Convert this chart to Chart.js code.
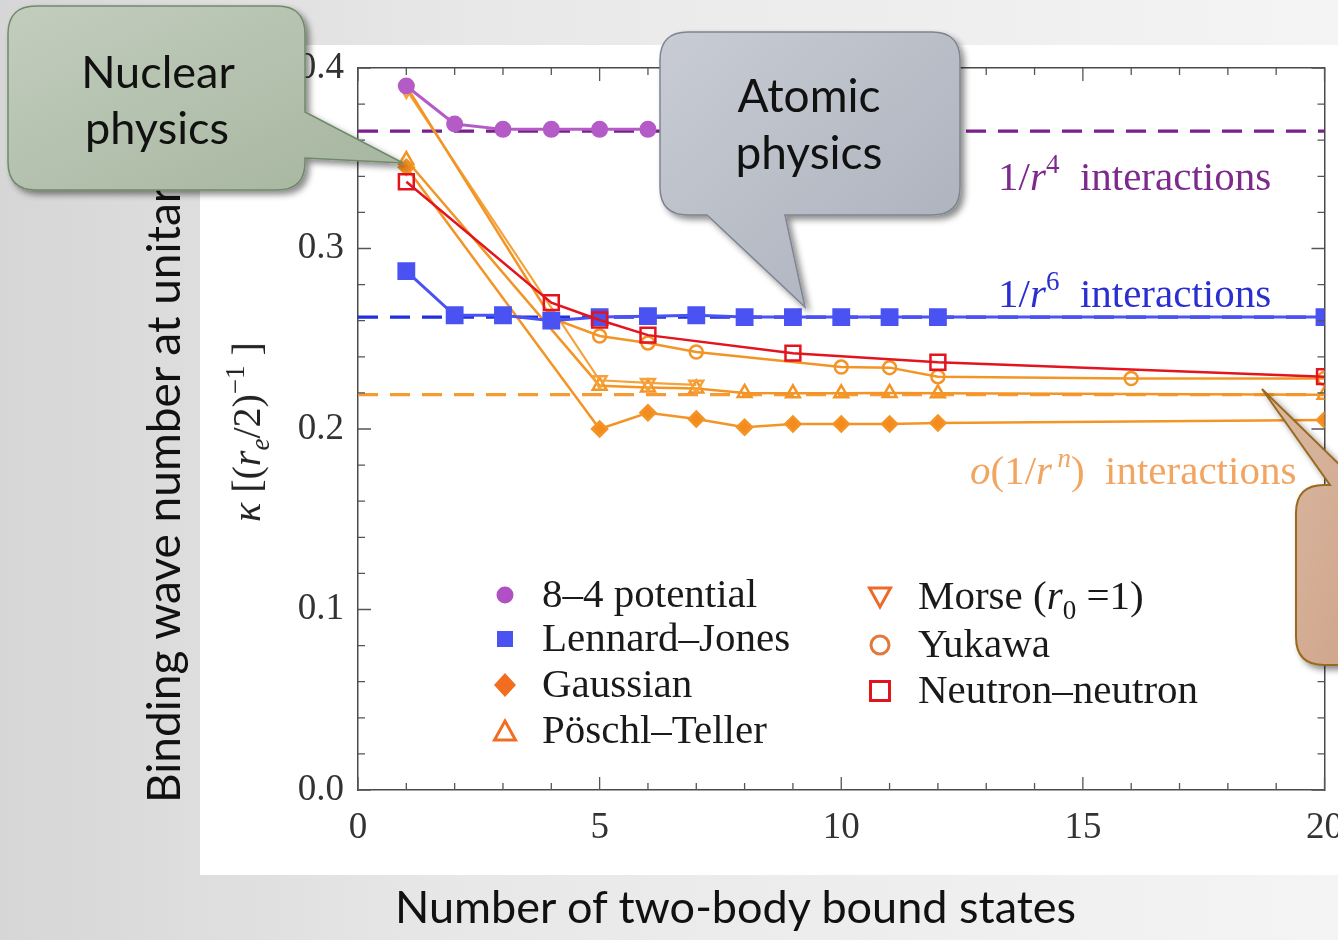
<!DOCTYPE html>
<html><head><meta charset="utf-8">
<script src="https://cdn.jsdelivr.net/npm/chart.js@4.4.1/dist/chart.umd.min.js"></script>
<style>
html,body{margin:0;padding:0;width:1338px;height:940px;overflow:hidden;}
body{position:relative;background:linear-gradient(90deg,#d6d6d6 0%,#e8e8e8 35%,#f4f4f4 100%);font-family:'Liberation Serif','Times New Roman',serif;}
#plotbg{position:absolute;left:200px;top:45px;width:1138px;height:830px;background:#fff;}
#wrap{position:absolute;left:0;top:0;width:1338px;height:940px;}
.t{position:absolute;white-space:nowrap;line-height:1;}
.slide{font-family:Lato,'Open Sans',sans-serif;color:#111;}
.serif{font-family:'Liberation Serif','Times New Roman',serif;}
.ann{font-size:41px;}
.ann sup{font-size:27px;vertical-align:0;position:relative;top:-17px;}
.leg{font-size:41px;color:#1a1a1a;}
.leg sub{font-size:27px;vertical-align:0;position:relative;top:10px;}
.mk{position:absolute;width:30px;height:30px;}
#kappa{font-size:40px;color:#222;transform:translate(-50%,-50%) rotate(-90deg);}
#kappa sub{font-size:27px;vertical-align:0;position:relative;top:9px;}
#kappa sup{font-size:27px;vertical-align:0;position:relative;top:-16px;}
svg#callouts{position:absolute;left:0;top:0;}
</style></head>
<body>
<div id="plotbg"></div>
<div id="wrap"><canvas id="c" width="1338" height="940"></canvas></div>

<div class="t slide" id="ytitle" style="left:140px;top:803px;font-size:46px;transform-origin:0 0;transform:rotate(-90deg);">Binding wave number at unitarity</div>
<div class="t slide" id="xtitle" style="left:395px;top:884px;font-size:45px;">Number of two-body bound states</div>
<div class="t serif" id="kappa" style="left:247px;top:432px;"><i>κ</i> [(<i>r</i><sub><i>e</i></sub>/2)<sup>−1</sup> ]</div>

<div class="t serif ann" style="left:998px;top:156px;color:#7d2a8c;">1/<i>r</i><sup>4</sup>&nbsp; interactions</div>
<div class="t serif ann" style="left:998px;top:273px;color:#2b2fcf;">1/<i>r</i><sup>6</sup>&nbsp; interactions</div>
<div class="t serif ann" style="left:970px;top:450px;color:#f2a461;"><i>o</i>(1/<i>r</i><sup>&thinsp;<i>n</i></sup>)&nbsp; interactions</div>

<div id="legend"></div>

<svg id="callouts" width="1338" height="940">
  <defs>
    <filter id="sh" x="-10%" y="-10%" width="130%" height="130%">
      <feDropShadow dx="4" dy="4" stdDeviation="3" flood-color="#000" flood-opacity="0.45"/>
    </filter>
    <linearGradient id="gGreen" x1="0" y1="0" x2="1" y2="1">
      <stop offset="0" stop-color="#c3cdbe"/><stop offset="1" stop-color="#a5b59e"/>
    </linearGradient>
    <linearGradient id="gGray" x1="0" y1="0" x2="1" y2="1">
      <stop offset="0" stop-color="#c9ccd4"/><stop offset="1" stop-color="#a9afba"/>
    </linearGradient>
    <linearGradient id="gTan" x1="0" y1="0" x2="1" y2="1">
      <stop offset="0" stop-color="#dcbaa4"/><stop offset="1" stop-color="#cfa68c"/>
    </linearGradient>
  </defs>
  <g filter="url(#sh)">
    <path d="M36,6 H277 Q305,6 305,34 V112 L403,163 L305,158 V162 Q305,190 277,190 H36 Q8,190 8,162 V34 Q8,6 36,6 Z" fill="url(#gGreen)" stroke="#6f8a69" stroke-width="1.5"/>
    <path d="M688,32 H932 Q960,32 960,60 V187 Q960,215 932,215 H785 L805,307 L707,215 H688 Q660,215 660,187 V60 Q660,32 688,32 Z" fill="url(#gGray)" stroke="#7d8592" stroke-width="1.5"/>
    <path d="M1324,485 H1330 L1262,389 L1345,470 V665 H1324 Q1296,665 1296,637 V513 Q1296,485 1324,485 Z" fill="url(#gTan)" stroke="#9a6a1c" stroke-width="2"/>
  </g>
  <text x="158" y="88" text-anchor="middle" font-family="Lato, 'Open Sans', sans-serif" font-size="45" fill="#111">Nuclear</text>
  <text x="157" y="144" text-anchor="middle" font-family="Lato, 'Open Sans', sans-serif" font-size="45" fill="#111">physics</text>
  <text x="809" y="112" text-anchor="middle" font-family="Lato, 'Open Sans', sans-serif" font-size="46" fill="#111">Atomic</text>
  <text x="809" y="169" text-anchor="middle" font-family="Lato, 'Open Sans', sans-serif" font-size="46" fill="#111">physics</text>
</svg>

<script>
// ---------- data ----------
const xTickLabels = ['0','5','10','15','20'];
const yTickLabels = ['0.0','0.1','0.2','0.3','0.4'];

const seriesNames = ['8–4 potential','Lennard–Jones','Gaussian','Pöschl–Teller','Morse (r0 =1)','Yukawa','Neutron–neutron'];

const potential84X = [1,2,3,4,5,6];
const potential84Y = [0.390,0.369,0.366,0.366,0.366,0.366];

const lennardJonesX = [1,2,3,4,5,6,7,8,9,10,11,12,20];
const lennardJonesY = [0.2875,0.263,0.263,0.260,0.262,0.2625,0.263,0.262,0.262,0.262,0.262,0.262,0.262];

const gaussianX = [1,5,6,7,8,9,10,11,12,20];
const gaussianY = [0.345,0.200,0.209,0.2055,0.201,0.2028,0.2028,0.2028,0.2033,0.205];

const poschlTellerX = [1,5,6,7,8,9,10,11,12,20];
const poschlTellerY = [0.349,0.224,0.223,0.2225,0.220,0.2198,0.2198,0.220,0.2198,0.219];

const morseX = [1,5,6,7];
const morseY = [0.388,0.227,0.2255,0.2245];

const yukawaX = [1,4,5,6,7,10,11,12,16,20];
const yukawaY = [0.390,0.2615,0.2515,0.2477,0.2427,0.2343,0.234,0.229,0.228,0.228];

const neutronX = [1,4,5,6,9,12,20];
const neutronY = [0.337,0.270,0.2604,0.252,0.242,0.237,0.229];

const limitX = [0,20];
const limit4Y = [0.365,0.365];   // 1/r^4
const limit6Y = [0.262,0.262];   // 1/r^6
const limitNY = [0.219,0.219];   // o(1/r^n)

// ---------- helpers ----------
const pts = (xs, ys) => xs.map((x,i)=>({x, y: ys[i]}));

const ORANGE = '#f39526';
const datasets = [
  {label:seriesNames[0], data:pts(potential84X,potential84Y), borderColor:'#b45bc8', backgroundColor:'#b45bc8',
   borderWidth:3, pointStyle:'circle', pointRadius:7, order:1},
  {label:seriesNames[6], data:pts(neutronX,neutronY), borderColor:'#e3141e', backgroundColor:'rgba(255,255,255,0)',
   borderWidth:2.5, pointStyle:'rect', pointRadius:10.5, pointBorderWidth:2.5, order:2},
  {label:seriesNames[1], data:pts(lennardJonesX,lennardJonesY), borderColor:'#4a52f2', backgroundColor:'#4a52f2',
   borderWidth:3, pointStyle:'rect', pointRadius:10.5, order:3},
  {label:seriesNames[5], data:pts(yukawaX,yukawaY), borderColor:ORANGE, backgroundColor:'rgba(255,255,255,0)',
   borderWidth:2.5, pointStyle:'circle', pointRadius:6.5, pointBorderWidth:2.5, order:4},
  {label:seriesNames[4], data:pts(morseX,morseY), borderColor:'#f5a23a', backgroundColor:'rgba(255,255,255,0)',
   borderWidth:2.2, pointStyle:'triangle', pointRotation:180, pointRadius:8, pointBorderWidth:2.5, order:5},
  {label:seriesNames[3], data:pts(poschlTellerX,poschlTellerY), borderColor:ORANGE, backgroundColor:'rgba(255,255,255,0)',
   borderWidth:2.5, pointStyle:'triangle', pointRadius:8, pointBorderWidth:2.5, order:6},
  {label:seriesNames[2], data:pts(gaussianX,gaussianY), borderColor:ORANGE, backgroundColor:'#f58a1f',
   borderWidth:2.5, pointStyle:'rectRot', pointRadius:7.5, order:7},
  {label:'limit4', data:pts(limitX,limit4Y), borderColor:'#7b1f8c', borderWidth:3.2, borderDash:[20,12], pointRadius:0, order:10},
  {label:'limit6', data:pts(limitX,limit6Y), borderColor:'#1f30e0', borderWidth:3.2, borderDash:[20,12], pointRadius:0, order:10},
  {label:'limitN', data:pts(limitX,limitNY), borderColor:'#f59a34', borderWidth:3.2, borderDash:[20,12], pointRadius:0, order:10},
];

const tickFont = {family:"'Liberation Serif','Times New Roman',serif", size:37};

const inwardTicks = {
  id:'inwardTicks',
  afterDraw(chart){
    const {ctx, chartArea:a, scales} = chart;
    const x = scales.x, y = scales.y;
    ctx.save();
    ctx.strokeStyle = '#555'; ctx.lineWidth = 1.3;
    for (let i = 0; i <= 20; i++) {
      const px = x.getPixelForValue(i);
      const len = (i % 5 === 0) ? 13 : 7;
      ctx.beginPath();
      ctx.moveTo(px, a.bottom); ctx.lineTo(px, a.bottom - len);
      ctx.moveTo(px, a.top); ctx.lineTo(px, a.top + len);
      ctx.stroke();
    }
    for (let j = 0; j <= 20; j++) {
      const v = j * 0.02;
      const py = y.getPixelForValue(v);
      const len = (j % 5 === 0) ? 13 : 7;
      ctx.beginPath();
      ctx.moveTo(a.left, py); ctx.lineTo(a.left + len, py);
      ctx.moveTo(a.right, py); ctx.lineTo(a.right - len, py);
      ctx.stroke();
    }
    ctx.restore();
  }
};

const borderOpt = {display:true, color:'#4a4a4a', width:1.5};

new Chart(document.getElementById('c'), {
  type:'line',
  data:{datasets},
  options:{
    responsive:false, animation:false, maintainAspectRatio:false,
    layout:{padding:{left:288, right:12, top:68, bottom:90}},
    plugins:{legend:{display:false}, tooltip:{enabled:false}},
    elements:{line:{tension:0}},
    scales:{
      x:{type:'linear', position:'bottom', min:0, max:20,
         ticks:{stepSize:5, color:'#333', font:tickFont, padding:16, maxRotation:0,
                callback:(v)=>{const k=[0,5,10,15,20].indexOf(v); return k>=0?xTickLabels[k]:'';}},
         grid:{display:false, drawTicks:false}, border:borderOpt,
         afterFit(s){s.height=60; s.paddingLeft=0; s.paddingRight=0;}},
      x2:{type:'linear', position:'top', min:0, max:20, ticks:{display:false},
         grid:{display:false, drawTicks:false}, border:borderOpt,
         afterFit(s){s.height=0; s.paddingLeft=0; s.paddingRight=0;}},
      y:{type:'linear', position:'left', min:0, max:0.4,
         ticks:{stepSize:0.1, color:'#333', font:tickFont, padding:14,
                callback:(v)=>{const k=Math.round(v*10); return yTickLabels[k] ?? '';}},
         grid:{display:false, drawTicks:false}, border:borderOpt,
         afterFit(s){s.width=70; s.paddingTop=0; s.paddingBottom=0;}},
      y2:{type:'linear', position:'right', min:0, max:0.4, ticks:{display:false},
         grid:{display:false, drawTicks:false}, border:borderOpt,
         afterFit(s){s.width=0;}}
    }
  },
  plugins:[inwardTicks]
});

// ---------- legend (HTML) ----------
const legendItems = [
  {html:seriesNames[0], kind:'circle', color:'#b050c4', cx:505, cy:595, tx:542},
  {html:seriesNames[1], kind:'square', color:'#4a52f2', cx:505, cy:639, tx:542},
  {html:seriesNames[2], kind:'diamond', color:'#f26d1f', cx:505, cy:685, tx:542},
  {html:seriesNames[3], kind:'triangle', color:'#f26d1f', cx:505, cy:731, tx:542},
  {html:'Morse (<i>r</i><sub>0</sub> =1)', kind:'down', color:'#ec6a2a', cx:880, cy:597, tx:918},
  {html:seriesNames[5], kind:'ocircle', color:'#e2793a', cx:880, cy:645, tx:918},
  {html:seriesNames[6], kind:'osquare', color:'#e0141e', cx:880, cy:691, tx:918},
];
function markerSVG(kind, c){
  switch(kind){
    case 'circle': return `<circle cx="15" cy="15" r="8.5" fill="${c}"/>`;
    case 'square': return `<rect x="7" y="7" width="16" height="16" fill="${c}"/>`;
    case 'diamond': return `<polygon points="15,3 26,15 15,27 4,15" fill="${c}"/>`;
    case 'triangle': return `<polygon points="15,5 25.5,24 4.5,24" fill="none" stroke="${c}" stroke-width="3"/>`;
    case 'down': return `<polygon points="4.5,6 25.5,6 15,25" fill="none" stroke="${c}" stroke-width="3"/>`;
    case 'ocircle': return `<circle cx="15" cy="15" r="9" fill="none" stroke="${c}" stroke-width="3"/>`;
    case 'osquare': return `<rect x="5.5" y="5.5" width="19" height="19" fill="none" stroke="${c}" stroke-width="3"/>`;
  }
}
const lg = document.getElementById('legend');
legendItems.forEach(it=>{
  const m = document.createElement('div');
  m.className='mk'; m.style.left=(it.cx-15)+'px'; m.style.top=(it.cy-15)+'px';
  m.innerHTML = `<svg width="30" height="30">${markerSVG(it.kind,it.color)}</svg>`;
  lg.appendChild(m);
  const t = document.createElement('div');
  t.className='t serif leg'; t.style.left=it.tx+'px'; t.style.top=(it.cy-22)+'px';
  t.innerHTML = it.html;
  lg.appendChild(t);
});
</script>
</body></html>
